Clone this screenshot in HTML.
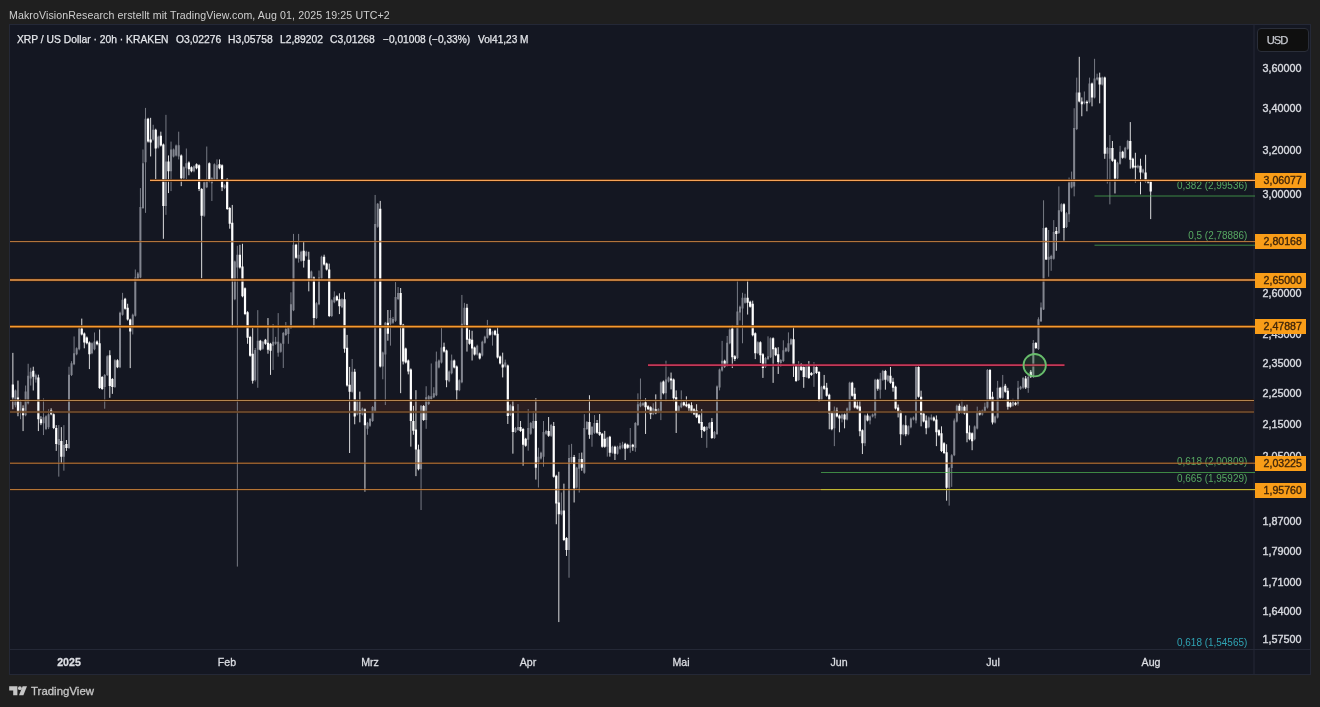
<!DOCTYPE html>
<html><head><meta charset="utf-8"><title>XRP chart</title>
<style>
*{margin:0;padding:0;box-sizing:border-box}
html,body{width:1320px;height:707px;overflow:hidden;background:#1f1f1f}
body{position:relative;font-family:"Liberation Sans",sans-serif;color:#d1d4dc}
.t{position:absolute;white-space:nowrap;line-height:1;will-change:transform}
#title{left:9px;top:9.6px;font-size:10.6px;color:#cfcfcf;letter-spacing:0.11px}
#chart{position:absolute;left:9px;top:24px;width:1302px;height:651px;background:#141722;border:1px solid #242836}
svg{position:absolute;left:0;top:0}
.lg{top:35.1px;font-size:10.3px;color:#e4e6ea;-webkit-text-stroke:0.25px #e4e6ea}
.pl{-webkit-text-stroke:0.4px #d6d8de;left:1254px;width:56px;text-align:center;font-size:10.8px;color:#d6d8de;height:12px;line-height:12px}
.ol{-webkit-text-stroke:0.35px #40260a;padding-left:4px;left:1255px;width:51.4px;height:15.4px;line-height:15.4px;background:#f99d18;color:#40260a;text-align:center;font-size:10.6px}
.tl{top:656.7px;font-size:10.6px;color:#dcdee3;-webkit-text-stroke:0.3px #dcdee3;transform:translateX(-50%)}
#usd{left:1257px;top:28px;width:52px;height:24px;border:1px solid #2a2e39;border-radius:4px;background:#0f0f0f;font-size:11.2px;letter-spacing:-1.05px;color:#c5c7cd;line-height:22px;padding-left:8.8px;-webkit-text-stroke:0.25px #c5c7cd}
#tv{left:31px;top:685.5px;font-size:11.4px;color:#c6c6c6;letter-spacing:0.03px;-webkit-text-stroke:0.3px #c6c6c6}
</style></head><body>
<div class="t" id="title">MakroVisionResearch erstellt mit TradingView.com, Aug 01, 2025 19:25 UTC+2</div>
<div id="chart"></div>
<svg width="1320" height="707" viewBox="0 0 1320 707">
<!-- axis separators -->
<path d="M1254 25V675M10 649.5H1310" stroke="#242836" stroke-width="1" fill="none"/>
<!-- band -->
<rect x="10" y="401" width="1244" height="10.6" fill="#3a2220" opacity="0.55"/>
<path d="M15.42 389.5V407.33M20.52 399.41V419.21M25.62 385.54V416.24M28.17 363.76V404.36M30.72 367.72V385.54M35.83 373.66V382.57M43.48 398.42V435.05M46.03 415.25V430.1M48.58 409.31V429.11M58.79 425.15V476.63M63.89 425.15V470.69M68.99 366.73V448.91M71.54 361.19V376.04M74.09 336.44V365.15M76.64 347.33V355.25M79.2 327.52V350.3M91.95 342.38V354.26M94.5 332.48V350.3M104.71 374.06V408.71M107.26 355.25V376.04M114.91 359.21V387.92M120.02 311.68V368.12M122.57 292.87V315.64M132.77 313.66V334.46M135.32 269.5V316.63M137.87 272.08V279.01M140.42 188.12V278.22M142.98 149.5V208.91M145.53 107.92V212.87M153.18 124.75V140.59M158.28 135.64V148.51M165.94 114.85V214.85M171.04 141.58V191.09M173.59 148.51V157.43M176.14 144.55V156.44M178.69 131.68V159.41M183.8 166.34V179.21M186.35 148.51V179.21M194 165.35V172.28M204.2 181.19V216.83M206.76 146.53V188.12M211.86 177.23V200.99M214.41 163.37V180.2M216.96 159.41V180.2M224.61 184.16V189.11M234.82 260.59V300.2M237.37 245.79V566.58M255.23 347.97V381.44M257.78 310.15V387.77M262.88 340.84V349.75M273.09 324.01V369.95M275.64 336.88V344.8M278.19 313.12V356.68M280.74 342.82V352.72M283.29 331.93V367.97M285.84 322.03V335.89M288.39 325.99V343.81M290.95 292.33V328.96M293.5 233.91V311.14M298.6 233.91V262.62M301.15 250.74V261.63M306.25 250.74V256.68M311.36 270.54V281.44M316.46 302.23V319.06M319.01 270.54V305.2M321.56 255.69V279.46M331.76 299.26V317.08M334.32 291.34V303.22M341.97 298.27V308.17M352.17 358.96V392.62M357.28 399.55V415.4M362.38 407.48V415.4M367.48 421.88V434.75M370.03 417.92V426.83M372.58 406.04V421.88M375.14 194.95V411.98M377.69 203.07V227.82M382.79 351.58V379.31M385.34 321.88V405.05M390.44 310V345.64M392.99 316.93V323.86M395.54 282.08V321.88M398.1 287.03V300.1M421.06 405.05V510M426.16 386.24V428.81M428.71 395.15V405.05M431.26 363.47V400.1M433.81 387.23V398.12M436.36 351.58V396.14M438.92 359.5V368.42M441.47 327.82V363.47M449.12 370.4V382.28M451.67 354.55V374.36M459.32 379.31V391.19M461.88 294.95V383.27M464.43 302.87V325.84M477.18 344.65V355.54M482.29 340.69V356.53M484.84 335.74V343.66M487.39 319.9V338.71M492.49 330.79V345.64M505.25 359.6V367.52M510.35 404.16V416.04M515.45 426.93V432.87M518 404.16V430.89M528.21 409.11V450.69M530.76 421.98V434.85M533.31 411.09V428.91M538.41 447.72V487.52M540.96 451.68V459.6M543.51 420.99V466.73M546.07 429.9V434.85M551.17 423.96V436.83M561.37 492.57V515.35M569.03 444.85V577.72M571.58 443.86V462.87M576.68 466.83V488.61M579.23 452.97V492.57M584.33 414.16V473.76M586.88 420.99V429.9M591.99 425.94V446.73M594.54 415.05V433.86M607.29 436.83V456.63M612.4 445.74V453.66M617.5 445.74V454.65M620.05 442.77V449.7M622.6 441.78V448.71M630.26 428.02V452.77M635.36 422.08V451.78M637.91 393.37V426.04M640.46 378.51V407.23M643.01 402.28V406.24M653.22 403.27V415.15M658.32 408.22V413.17M660.87 381.49V420.1M665.97 360.69V401.29M668.52 376.53V382.48M678.73 405.25V412.18M681.28 390.4V408.22M706.79 426.04V447.82M709.34 422.08V429.01M714.44 430.99V438.91M717 385.45V434.95M719.55 368.61V390.4M722.1 340.89V371.58M727.2 335.94V366.63M729.75 328.42V344.26M737.41 280.89V359.11M739.96 305.64V320.5M742.51 292.77V343.27M745.06 293.76V303.66M757.82 341.29V354.16M765.47 357.13V368.02M768.02 336.34V360.1M770.57 337.33V358.12M780.78 359.11V367.03M783.33 340.3V362.08M785.88 347.23V352.18M788.43 332.38V352.18M790.98 338.32V345.25M798.63 361.09V380.89M806.29 364.06V377.92M813.94 362.08V386.83M821.6 385.84V400.69M834.35 406.53V446.14M842 413.47V422.38M847.11 407.52V420.4M849.66 381.78V411.49M864.97 414.46V446.14M870.07 415.45V424.36M872.62 413.47V417.43M875.17 378.81V418.42M880.27 372.87V398.61M882.82 369.9V380.79M887.93 374.85V381.78M903.23 424.36V435.25M908.34 425.35V435.25M910.89 417.43V428.32M913.44 416.44V420.4M915.99 365.94V423.37M928.75 416.44V428.32M931.3 414.46V420.4M949.16 467.03V505.64M951.71 454.16V486.83M954.26 418.51V456.14M956.81 404.65V422.48M961.91 399.7V413.56M974.67 425.45V440.3M977.22 406.63V429.41M982.32 409.6V415.54M984.87 402.67V412.57M987.42 369.01V408.61M995.08 415.54V423.47M997.63 380.89V418.51M1002.73 374.95V398.71M1012.94 398.71V406.63M1018.04 380.89V405.64M1020.59 385.84V389.8M1023.14 376.93V388.81M1028.24 375V392.8M1033.34 340V378M1038.45 317.3V350M1041 302.5V322M1043.55 200.3V310M1048.65 230V276.73M1051.2 254.75V270.79M1053.75 220.1V259.7M1058.86 186.44V233.96M1061.41 203.27V212.18M1066.51 212.18V228.02M1069.06 177.52V222.08M1071.61 171.58V188.42M1074.16 108.22V196.34M1076.72 77.62V130.1M1084.37 91.49V104.36M1089.47 77.62V103.37M1094.57 58.81V98.42M1097.12 73.66V80.59M1102.23 76.63V85.54M1107.33 146.93V183.56M1109.88 135.05V204.36M1117.53 161.78V179.41M1120.09 145.84V164.65M1125.19 146.83V158.71M1127.74 139.9V149.8M1137.94 164.65V168.61M1143.05 168.61V173.56" stroke="#82858f" stroke-width="1" fill="none" opacity="0.9"/><path d="M14.42 390.5h2v14.85h-2zM19.52 401.39h2v9.9h-2zM24.62 391.49h2v23.76h-2zM27.17 375.64h2v27.72h-2zM29.72 371.68h2v6.93h-2zM34.83 375.25h2v4.36h-2zM42.48 417.23h2v5.94h-2zM45.03 416.24h2v12.87h-2zM47.58 414.26h2v12.87h-2zM57.79 439.01h2v5.94h-2zM62.89 444.95h2v11.88h-2zM67.99 374.65h2v73.27h-2zM70.54 363.17h2v11.88h-2zM73.09 353.27h2v10.89h-2zM75.64 348.32h2v5.94h-2zM78.2 328.51h2v20.79h-2zM90.95 343.37h2v9.9h-2zM93.5 341.39h2v7.92h-2zM103.71 375.05h2v11.88h-2zM106.26 356.24h2v18.81h-2zM113.91 360.2h2v26.73h-2zM119.02 312.67h2v54.46h-2zM121.57 299.8h2v14.85h-2zM131.77 314.65h2v12.87h-2zM134.32 277.43h2v38.22h-2zM136.87 273.47h2v4.95h-2zM139.42 206.93h2v70.5h-2zM141.98 163.37h2v44.55h-2zM144.53 118.81h2v43.56h-2zM152.18 129.7h2v9.9h-2zM157.28 136.63h2v10.89h-2zM164.94 161.39h2v44.55h-2zM170.04 149.5h2v21.78h-2zM172.59 149.5h2v6.93h-2zM175.14 145.54h2v9.9h-2zM177.69 145.15h2v11.29h-2zM182.8 167.33h2v10.89h-2zM185.35 163.37h2v4.95h-2zM193 166.34h2v4.95h-2zM203.2 182.18h2v33.66h-2zM205.76 179.21h2v7.92h-2zM210.86 178.22h2v4.95h-2zM213.41 164.36h2v14.85h-2zM215.96 165.35h2v13.86h-2zM223.61 185.15h2v2.97h-2zM233.82 261.58h2v37.62h-2zM236.37 254.7h2v12.87h-2zM254.23 349.95h2v30.1h-2zM256.78 340.84h2v8.91h-2zM261.88 341.83h2v6.93h-2zM272.09 341.83h2v3.96h-2zM274.64 341.83h2v1.98h-2zM277.19 341.83h2v10.89h-2zM279.74 343.81h2v7.92h-2zM282.29 332.92h2v10.89h-2zM284.84 328.96h2v5.94h-2zM287.39 326.98h2v6.93h-2zM289.95 304.21h2v23.76h-2zM292.5 244.8h2v65.35h-2zM297.6 254.7h2v3.96h-2zM300.15 251.73h2v8.91h-2zM305.25 251.73h2v3.96h-2zM310.36 271.53h2v8.91h-2zM315.46 303.22h2v14.85h-2zM318.01 277.48h2v26.73h-2zM320.56 256.68h2v21.78h-2zM330.76 300.25h2v15.84h-2zM333.32 297.28h2v4.95h-2zM340.97 299.26h2v7.92h-2zM351.17 371.83h2v19.8h-2zM356.28 400.54h2v13.86h-2zM361.38 408.47h2v5.94h-2zM366.48 422.87h2v5.94h-2zM369.03 418.91h2v6.93h-2zM371.58 407.03h2v13.86h-2zM374.14 224.06h2v186.93h-2zM376.69 203.86h2v22.97h-2zM381.79 352.57h2v13.86h-2zM384.34 322.87h2v31.68h-2zM389.44 317.92h2v5.94h-2zM391.99 318.91h2v3.76h-2zM394.54 296.93h2v23.76h-2zM397.1 292.97h2v5.94h-2zM420.06 405.84h2v63.37h-2zM425.16 397.13h2v22.77h-2zM427.71 396.14h2v7.92h-2zM430.26 396.14h2v2.97h-2zM432.81 393.17h2v3.96h-2zM435.36 361.49h2v33.66h-2zM437.92 360.5h2v6.93h-2zM440.47 347.62h2v14.85h-2zM448.12 371.39h2v9.9h-2zM450.67 360.5h2v12.87h-2zM458.32 380.3h2v9.9h-2zM460.88 323.86h2v58.42h-2zM463.43 307.82h2v17.03h-2zM476.18 345.64h2v8.91h-2zM481.29 341.68h2v13.86h-2zM483.84 336.73h2v5.94h-2zM486.39 328.81h2v8.91h-2zM491.49 331.78h2v2.97h-2zM504.25 362.57h2v3.96h-2zM509.35 405.15h2v9.9h-2zM514.45 427.92h2v3.96h-2zM517 426.93h2v2.97h-2zM527.21 427.92h2v11.88h-2zM529.76 422.97h2v10.89h-2zM532.31 420.99h2v6.93h-2zM537.41 456.63h2v5.35h-2zM539.96 452.67h2v5.94h-2zM542.51 431.88h2v24.75h-2zM545.07 430.89h2v2.97h-2zM550.17 424.95h2v10.89h-2zM560.37 510.4h2v3.96h-2zM568.03 457.92h2v92.08h-2zM570.58 456.93h2v4.95h-2zM575.68 467.82h2v19.8h-2zM578.23 458.91h2v9.9h-2zM583.33 428.02h2v44.75h-2zM585.88 421.98h2v6.93h-2zM590.99 426.93h2v7.92h-2zM593.54 422.97h2v9.9h-2zM606.29 437.82h2v8.91h-2zM611.4 446.73h2v5.94h-2zM616.5 446.73h2v6.93h-2zM619.05 445.74h2v2.97h-2zM621.6 444.75h2v2.97h-2zM629.26 444.85h2v2.97h-2zM634.36 423.07h2v24.75h-2zM636.91 404.26h2v20.79h-2zM639.46 403.27h2v2.97h-2zM642.01 403.27h2v1.98h-2zM652.22 408.22h2v5.94h-2zM657.32 409.21h2v2.97h-2zM659.87 382.48h2v28.71h-2zM664.97 379.5h2v13.86h-2zM667.52 377.52h2v3.96h-2zM677.73 406.24h2v4.95h-2zM680.28 403.27h2v3.96h-2zM705.79 427.03h2v2.97h-2zM708.34 423.07h2v4.95h-2zM713.44 431.98h2v5.94h-2zM716 386.44h2v47.52h-2zM718.55 369.6h2v17.82h-2zM721.1 360.69h2v9.9h-2zM726.2 342.87h2v22.77h-2zM728.75 329.41h2v13.86h-2zM736.41 311.58h2v46.53h-2zM738.96 306.63h2v5.94h-2zM741.51 297.72h2v10.89h-2zM744.06 297.72h2v4.95h-2zM756.82 342.28h2v10.89h-2zM764.47 358.12h2v8.91h-2zM767.02 356.14h2v2.97h-2zM769.57 338.32h2v18.81h-2zM779.78 360.1h2v2.97h-2zM782.33 350.2h2v10.89h-2zM784.88 348.22h2v2.97h-2zM787.43 343.27h2v7.92h-2zM789.98 339.31h2v4.95h-2zM797.63 365.05h2v14.85h-2zM805.29 365.05h2v11.88h-2zM812.94 366.04h2v7.92h-2zM820.6 386.83h2v12.87h-2zM833.35 410.5h2v17.82h-2zM841 414.46h2v3.96h-2zM846.11 408.51h2v10.89h-2zM848.66 382.77h2v27.72h-2zM863.97 415.45h2v27.72h-2zM869.07 416.44h2v3.96h-2zM871.62 414.46h2v1.98h-2zM874.17 379.8h2v35.64h-2zM879.27 378.81h2v10.89h-2zM881.82 370.89h2v8.91h-2zM886.93 375.84h2v4.95h-2zM902.23 425.35h2v8.91h-2zM907.34 426.34h2v7.92h-2zM909.89 418.42h2v8.91h-2zM912.44 417.43h2v1.98h-2zM914.99 366.93h2v53.47h-2zM927.75 417.43h2v9.9h-2zM930.3 417.43h2v1.98h-2zM948.16 468.02h2v19.8h-2zM950.71 455.15h2v12.87h-2zM953.26 420.5h2v34.65h-2zM955.81 405.64h2v15.84h-2zM960.91 406.63h2v5.94h-2zM973.67 426.44h2v12.87h-2zM976.22 411.58h2v16.83h-2zM981.32 410.59h2v3.96h-2zM983.87 406.63h2v4.95h-2zM986.42 370h2v37.62h-2zM994.08 416.53h2v5.94h-2zM996.63 387.82h2v29.7h-2zM1001.73 386.83h2v10.89h-2zM1011.94 401.68h2v3.96h-2zM1017.04 387.82h2v15.84h-2zM1019.59 386.83h2v1.98h-2zM1022.14 377.92h2v9.9h-2zM1027.24 377h2v11h-2zM1032.34 343h2v33.7h-2zM1037.45 319.3h2v29.7h-2zM1040 307.4h2v13.9h-2zM1042.55 228h2v81.4h-2zM1047.65 256.73h2v2.97h-2zM1050.2 255.94h2v2.97h-2zM1052.75 231.98h2v26.73h-2zM1057.86 210.2h2v22.77h-2zM1060.41 204.26h2v6.93h-2zM1065.51 213.17h2v13.86h-2zM1068.06 182.48h2v31.68h-2zM1070.61 179.5h2v7.92h-2zM1073.16 128.02h2v58.42h-2zM1075.72 92.48h2v36.63h-2zM1083.37 101.39h2v1.98h-2zM1088.47 83.56h2v18.81h-2zM1093.57 78.61h2v18.81h-2zM1096.12 77.62h2v1.98h-2zM1101.23 77.62h2v6.93h-2zM1106.33 147.92h2v5.94h-2zM1108.88 147.92h2v10.89h-2zM1116.53 162.77h2v15.64h-2zM1119.09 151.78h2v11.88h-2zM1124.19 147.82h2v9.9h-2zM1126.74 140.89h2v7.92h-2zM1136.94 165.64h2v1.98h-2zM1142.05 169.6h2v2.97h-2z" fill="#82858f"/><path d="M12.86 352.87V409.31M17.97 380.59V416.24M23.07 405.35V431.09M33.27 366.73V390.5M38.38 374.65V431.09M40.93 416.24V425.15M51.13 408.32V415.25M53.68 413.27V429.11M56.24 425.15V450.89M61.34 427.13V462.77M66.44 440V450.89M81.75 318.61V335.45M84.3 332.48V348.32M86.85 336.44V344.36M89.4 341.39V369.11M97.05 340.4V345.35M99.61 329.5V388.91M102.16 376.04V389.9M109.81 350.3V397.82M112.36 378.02V393.86M117.46 359.21V368.12M125.12 297.82V309.7M127.67 303.76V320.59M130.22 318.61V368.12M148.08 117.82V142.57M150.63 117.82V156.44M155.73 128.71V179.21M160.83 131.68V146.53M163.39 143.56V238.81M168.49 155.45V193.07M181.24 154.46V186.14M188.9 161.39V175.25M191.45 166.34V172.28M196.55 163.37V169.31M199.1 164.36V191.09M201.65 188.12V278.42M209.31 162.38V182.18M219.51 159.41V169.31M222.06 164.36V191.09M227.17 178.22V209.9M229.72 206.93V228.71M232.27 204.95V327.92M239.92 244.8V268.56M242.47 243.81V297.28M245.02 287.38V315.1M247.58 311.14V343.81M250.13 335.89V356.68M252.68 327.97V383.61M260.33 339.85V350.74M265.43 338.86V344.8M267.98 318.07V353.71M270.54 342.82V374.9M296.05 243.81V258.66M303.7 241.83V267.57M308.8 251.73V291.34M313.91 276.49V327.97M324.11 254.7V265.59M326.66 262.62V270.54M329.21 263.61V317.08M336.87 295.3V301.24M339.42 293.32V314.11M344.52 292.33V352.72M347.07 334.9V386.58M349.62 366.88V453.02M354.73 368.86V424.31M359.83 391.63V422.33M364.93 408.47V491.63M380.24 200.89V367.43M387.89 310V340.69M400.65 288.02V393.17M403.2 323.86V364.46M405.75 347.62V363.47M408.3 359.5V374.36M410.85 368.42V446.63M413.4 405.84V434.75M415.95 390.2V476.14M418.51 444.65V470.4M423.61 405.05V420.89M444.02 342.67V352.57M446.57 349.6V387.23M454.22 359.5V368.42M456.77 365.45V401.09M466.98 303.86V351.58M469.53 329.8V344.65M472.08 330.79V360.5M474.63 346.63V355.54M479.73 352.57V359.5M489.94 327.82V335.74M495.04 329.8V335.74M497.59 326.83V358.51M500.14 355.54V364.46M502.7 352.67V377.43M507.8 364.55V423.96M512.9 400.2V453.66M520.55 420.99V431.88M523.1 427.92V465.74M525.66 437.82V446.73M535.86 398.22V479.6M548.62 417.03V436.83M553.72 421.98V477.62M556.27 474.75V524.26M558.82 471.78V622.08M563.92 483.66V541.09M566.48 537.13V555.94M574.13 454.95V502.48M581.78 452.57V470.79M589.44 395.25V438.81M597.09 420V433.86M599.64 414.06V435.84M602.19 432.87V447.72M604.74 430.89V447.72M609.85 435.84V456.63M614.95 445.74V460M625.15 442.77V460M627.7 443.76V448.71M632.81 443.86V450.79M645.56 398.32V433.96M648.11 405.25V410.2M650.66 406.24V419.11M655.77 394.36V414.16M663.42 380.5V394.36M671.07 372.57V389.41M673.63 378.51V401.29M676.18 390.4V432.97M683.83 401.29V406.24M686.38 396.34V407.23M688.93 403.27V411.19M691.48 402.28V413.17M694.04 408.22V415.15M696.59 404.26V418.12M699.14 414.16V424.06M701.69 409.21V437.92M704.24 426.04V431.98M711.89 418.12V438.91M724.65 359.7V367.62M732.3 325.45V368.02M734.85 355.15V361.09M747.61 279.9V314.55M750.16 300.69V307.62M752.71 300.69V336.34M755.26 332.38V359.11M760.37 341.29V363.07M762.92 353.17V377.92M773.12 337.33V382.87M775.67 347.23V356.14M778.22 347.23V373.96M793.53 326.44V376.93M796.08 364.06V381.88M801.19 363.07V370.99M803.74 366.04V387.82M808.84 361.09V378.91M811.39 371.98V375.94M816.49 366.04V373.96M819.04 370.99V401.68M824.15 374.95V389.8M826.7 382.87V396.73M829.25 393.66V429.31M831.8 411.49V430.3M836.9 407.52V417.43M839.45 414.46V432.28M844.56 413.47V428.32M852.21 381.78V396.63M854.76 387.72V408.51M857.31 400.59V409.5M859.86 400.59V436.24M862.41 429.31V454.06M867.52 413.47V421.39M877.72 378.81V390.69M885.38 369.9V389.7M890.48 366.93V383.76M893.03 377.82V391.68M895.58 385.74V409.5M898.13 404.55V417.43M900.68 410.5V445.15M905.78 415.45V436.24M918.54 365.94V397.62M921.09 390.69V426.34M923.64 412.48V422.38M926.19 415.45V434.26M933.85 416.44V421.39M936.4 415.45V446.14M938.95 429.31V436.24M941.5 426.34V452.08M944.05 442.18V454.06M946.6 444.26V500.69M959.36 403.66V413.56M964.46 405.64V414.55M967.01 404.65V442.28M969.56 425.45V440.3M972.12 432.38V450.2M979.77 410.59V415.54M989.97 369.01V400.69M992.53 391.78V424.46M1000.18 386.83V398.71M1005.28 383.86V392.77M1007.83 387.82V409.6M1010.38 401.68V407.62M1015.49 401.68V405.64M1025.69 376V389M1030.79 370V378M1035.9 342V349M1046.1 227V260M1056.31 227.03V250.79M1063.96 203.27V240.89M1079.27 56.83V102.38M1081.82 97.43V116.24M1086.92 100.4V111.29M1092.02 82.57V106.34M1099.68 72.67V103.37M1104.78 76.63V158.81M1112.43 140.99V161.78M1114.98 158.81V193.47M1122.64 150.79V158.71M1130.29 122.08V168.61M1132.84 157.72V168.61M1135.39 152.77V182.48M1140.5 158.71V194.36M1145.6 154.75V182.48M1148.15 179.5V183.47M1150.7 180.5V219.11" stroke="#ffffff" stroke-width="1" fill="none" opacity="0.85"/><path d="M11.76 384.55h2.2v12.87h-2.2zM16.87 397.43h2.2v15.84h-2.2zM21.97 408.32h2.2v6.93h-2.2zM32.17 370.69h2.2v5.94h-2.2zM37.28 377.62h2.2v41.58h-2.2zM39.83 419.21h2.2v3.96h-2.2zM50.03 410.3h2.2v3.96h-2.2zM52.58 414.26h2.2v13.86h-2.2zM55.14 428.12h2.2v15.84h-2.2zM60.24 440.99h2.2v15.84h-2.2zM65.34 443.96h2.2v3.96h-2.2zM80.65 328.51h2.2v5.94h-2.2zM83.2 333.47h2.2v8.91h-2.2zM85.75 337.43h2.2v5.94h-2.2zM88.3 342.38h2.2v11.88h-2.2zM95.95 341.39h2.2v2.97h-2.2zM98.51 343.37h2.2v44.55h-2.2zM101.06 377.03h2.2v11.88h-2.2zM108.71 355.25h2.2v30.69h-2.2zM111.26 379.01h2.2v7.92h-2.2zM116.36 360.2h2.2v6.93h-2.2zM124.02 298.81h2.2v9.9h-2.2zM126.57 307.72h2.2v11.88h-2.2zM129.12 319.6h2.2v11.88h-2.2zM146.98 118.81h2.2v22.77h-2.2zM149.53 139.6h2.2v2.97h-2.2zM154.63 129.7h2.2v18.81h-2.2zM159.73 135.64h2.2v9.9h-2.2zM162.29 144.55h2.2v61.39h-2.2zM167.39 161.39h2.2v9.9h-2.2zM180.14 155.45h2.2v22.77h-2.2zM187.8 162.38h2.2v6.93h-2.2zM190.35 167.33h2.2v3.96h-2.2zM195.45 164.36h2.2v3.96h-2.2zM198 165.35h2.2v23.76h-2.2zM200.55 189.11h2.2v26.73h-2.2zM208.21 163.37h2.2v17.82h-2.2zM218.41 164.36h2.2v3.96h-2.2zM220.96 165.35h2.2v21.78h-2.2zM226.07 179.21h2.2v29.7h-2.2zM228.62 207.92h2.2v15.84h-2.2zM231.17 222.77h2.2v56.63h-2.2zM238.82 254.7h2.2v12.87h-2.2zM241.37 266.58h2.2v29.7h-2.2zM243.92 288.37h2.2v25.74h-2.2zM246.48 312.13h2.2v25.74h-2.2zM249.03 336.88h2.2v18.81h-2.2zM251.58 353.71h2.2v26.93h-2.2zM259.23 340.84h2.2v8.91h-2.2zM264.33 339.85h2.2v3.96h-2.2zM266.88 342.82h2.2v6.93h-2.2zM269.44 343.81h2.2v6.93h-2.2zM294.95 244.8h2.2v12.87h-2.2zM302.6 250.74h2.2v9.9h-2.2zM307.7 259.65h2.2v20.79h-2.2zM312.81 277.48h2.2v40.59h-2.2zM323.01 256.68h2.2v7.92h-2.2zM325.56 263.61h2.2v5.94h-2.2zM328.11 269.55h2.2v46.53h-2.2zM335.77 296.29h2.2v3.96h-2.2zM338.32 299.26h2.2v6.93h-2.2zM343.42 299.26h2.2v49.5h-2.2zM345.97 347.77h2.2v37.82h-2.2zM348.52 384.7h2.2v6.93h-2.2zM353.63 371.83h2.2v44.55h-2.2zM358.73 410.45h2.2v2.97h-2.2zM363.83 409.46h2.2v15.84h-2.2zM379.14 208.81h2.2v157.62h-2.2zM386.79 322.87h2.2v10.89h-2.2zM399.55 292.97h2.2v31.88h-2.2zM402.1 324.85h2.2v36.63h-2.2zM404.65 348.61h2.2v13.86h-2.2zM407.2 360.5h2.2v10.89h-2.2zM409.75 369.41h2.2v51.49h-2.2zM412.3 420.89h2.2v9.9h-2.2zM414.85 429.6h2.2v19.8h-2.2zM417.41 449.41h2.2v19.8h-2.2zM422.51 406.04h2.2v13.86h-2.2zM442.92 346.63h2.2v4.95h-2.2zM445.47 350.59h2.2v29.7h-2.2zM453.12 360.5h2.2v6.93h-2.2zM455.67 366.44h2.2v23.76h-2.2zM465.88 307.82h2.2v31.88h-2.2zM468.43 338.71h2.2v4.95h-2.2zM470.98 339.7h2.2v8.91h-2.2zM473.53 347.62h2.2v6.93h-2.2zM478.63 353.56h2.2v4.95h-2.2zM488.84 328.81h2.2v5.94h-2.2zM493.94 330.79h2.2v3.96h-2.2zM496.49 333.76h2.2v23.76h-2.2zM499.04 356.53h2.2v6.93h-2.2zM501.6 364.55h2.2v2.97h-2.2zM506.7 365.54h2.2v50.5h-2.2zM511.8 406.14h2.2v25.74h-2.2zM519.45 426.93h2.2v3.96h-2.2zM522 428.91h2.2v15.84h-2.2zM524.56 438.81h2.2v6.93h-2.2zM534.76 420.99h2.2v46.73h-2.2zM547.52 430.89h2.2v4.95h-2.2zM552.62 425.94h2.2v50.69h-2.2zM555.17 475.74h2.2v27.72h-2.2zM557.72 502.48h2.2v11.88h-2.2zM562.82 510.4h2.2v29.7h-2.2zM565.38 538.12h2.2v11.88h-2.2zM573.03 456.93h2.2v31.68h-2.2zM580.68 458.91h2.2v8.91h-2.2zM588.34 421.98h2.2v12.87h-2.2zM595.99 422.97h2.2v9.9h-2.2zM598.54 431.88h2.2v2.97h-2.2zM601.09 433.86h2.2v12.87h-2.2zM603.64 438.81h2.2v7.92h-2.2zM608.75 436.83h2.2v15.84h-2.2zM613.85 446.73h2.2v6.93h-2.2zM624.05 443.76h2.2v4.95h-2.2zM626.6 444.75h2.2v2.97h-2.2zM631.71 444.85h2.2v1.98h-2.2zM644.46 402.28h2.2v4.95h-2.2zM647.01 406.24h2.2v2.97h-2.2zM649.56 407.23h2.2v6.93h-2.2zM654.67 409.21h2.2v3.96h-2.2zM662.32 381.49h2.2v11.88h-2.2zM669.97 378.51h2.2v1.98h-2.2zM672.53 379.5h2.2v18.81h-2.2zM675.08 397.33h2.2v13.86h-2.2zM682.73 402.28h2.2v2.97h-2.2zM685.28 404.26h2.2v1.98h-2.2zM687.83 404.26h2.2v3.96h-2.2zM690.38 405.25h2.2v6.93h-2.2zM692.94 409.21h2.2v4.95h-2.2zM695.49 410.2h2.2v6.93h-2.2zM698.04 415.15h2.2v7.92h-2.2zM700.59 422.08h2.2v7.92h-2.2zM703.14 427.03h2.2v3.96h-2.2zM710.79 422.08h2.2v15.84h-2.2zM723.55 360.69h2.2v5.94h-2.2zM731.2 328.42h2.2v28.71h-2.2zM733.75 356.14h2.2v2.97h-2.2zM746.51 297.72h2.2v4.95h-2.2zM749.06 301.68h2.2v4.95h-2.2zM751.61 303.66h2.2v31.68h-2.2zM754.16 333.37h2.2v19.8h-2.2zM759.27 342.28h2.2v12.87h-2.2zM761.82 354.16h2.2v13.86h-2.2zM772.02 338.32h2.2v10.89h-2.2zM774.57 348.22h2.2v6.93h-2.2zM777.12 354.16h2.2v7.92h-2.2zM792.43 339.31h2.2v26.73h-2.2zM794.98 365.05h2.2v15.84h-2.2zM800.09 364.06h2.2v5.94h-2.2zM802.64 367.03h2.2v9.9h-2.2zM807.74 365.05h2.2v12.87h-2.2zM810.29 372.97h2.2v1.98h-2.2zM815.39 367.03h2.2v5.94h-2.2zM817.94 371.98h2.2v28.71h-2.2zM823.05 385.84h2.2v2.97h-2.2zM825.6 387.82h2.2v7.92h-2.2zM828.15 394.65h2.2v18.81h-2.2zM830.7 412.48h2.2v16.83h-2.2zM835.8 410.5h2.2v5.94h-2.2zM838.35 415.45h2.2v2.97h-2.2zM843.46 414.46h2.2v4.95h-2.2zM851.11 382.77h2.2v12.87h-2.2zM853.66 393.66h2.2v13.86h-2.2zM856.21 405.54h2.2v2.97h-2.2zM858.76 406.53h2.2v24.75h-2.2zM861.31 430.3h2.2v12.87h-2.2zM866.42 415.45h2.2v4.95h-2.2zM876.62 379.8h2.2v8.91h-2.2zM884.28 370.89h2.2v8.91h-2.2zM889.38 375.84h2.2v6.93h-2.2zM891.93 381.78h2.2v5.94h-2.2zM894.48 386.73h2.2v21.78h-2.2zM897.03 407.52h2.2v4.95h-2.2zM899.58 411.49h2.2v22.77h-2.2zM904.68 425.35h2.2v8.91h-2.2zM917.44 366.93h2.2v29.7h-2.2zM919.99 396.63h2.2v17.82h-2.2zM922.54 413.47h2.2v7.92h-2.2zM925.09 420.4h2.2v7.92h-2.2zM932.75 417.43h2.2v2.97h-2.2zM935.3 419.41h2.2v12.87h-2.2zM937.85 430.3h2.2v4.95h-2.2zM940.4 433.27h2.2v17.82h-2.2zM942.95 443.17h2.2v9.9h-2.2zM945.5 452.18h2.2v35.64h-2.2zM958.26 405.64h2.2v6.93h-2.2zM963.36 406.63h2.2v6.93h-2.2zM965.91 412.57h2.2v20.79h-2.2zM968.46 432.38h2.2v6.93h-2.2zM971.02 433.37h2.2v7.92h-2.2zM978.67 411.58h2.2v2.97h-2.2zM988.87 370h2.2v29.7h-2.2zM991.43 396.73h2.2v25.74h-2.2zM999.08 387.82h2.2v9.9h-2.2zM1004.18 385.84h2.2v5.94h-2.2zM1006.73 390.79h2.2v15.84h-2.2zM1009.28 402.67h2.2v3.96h-2.2zM1014.39 402.67h2.2v1.98h-2.2zM1024.59 378.5h2.2v9h-2.2zM1029.69 371.8h2.2v4.9h-2.2zM1034.8 343h2.2v5h-2.2zM1045 228h2.2v31.5h-2.2zM1055.21 230.99h2.2v2.97h-2.2zM1062.86 204.26h2.2v23.76h-2.2zM1078.17 92.48h2.2v8.91h-2.2zM1080.72 101.39h2.2v2.97h-2.2zM1085.82 101.78h2.2v1.58h-2.2zM1090.92 83.56h2.2v13.86h-2.2zM1098.58 77.62h2.2v6.93h-2.2zM1103.68 77.62h2.2v76.24h-2.2zM1111.33 147.92h2.2v12.87h-2.2zM1113.88 159.8h2.2v18.61h-2.2zM1121.54 151.78h2.2v5.94h-2.2zM1129.19 140.89h2.2v18.81h-2.2zM1131.74 158.71h2.2v8.91h-2.2zM1134.29 165.64h2.2v1.98h-2.2zM1139.4 165.64h2.2v6.93h-2.2zM1144.5 172.57h2.2v8.91h-2.2zM1147.05 180.5h2.2v1.98h-2.2zM1149.6 181.49h2.2v9.9h-2.2z" fill="#ffffff"/>
<!-- fib texts -->
<g font-family="Liberation Sans, sans-serif" font-size="10.4" fill="#57a862" text-anchor="end">
<text x="1247.3" y="189.1" textLength="70.3" lengthAdjust="spacingAndGlyphs">0,382 (2,99536)</text>
<text x="1247.3" y="238.9" textLength="59" lengthAdjust="spacingAndGlyphs">0,5 (2,78886)</text>
<text x="1247.3" y="464.5" textLength="70.3" lengthAdjust="spacingAndGlyphs">0,618 (2,00809)</text>
<text x="1247.3" y="481.6" textLength="70.3" lengthAdjust="spacingAndGlyphs">0,665 (1,95929)</text>
<text x="1247.3" y="645.9" textLength="70.3" lengthAdjust="spacingAndGlyphs" fill="#2fa3b3">0,618 (1,54565)</text>
</g>
<!-- orange lines: halo + core -->
<g fill="none" stroke="#3a1800" opacity="0.75">
<path d="M150 180.4H1255" stroke-width="3"/>
<path d="M10 241.6H1255" stroke-width="2.2" opacity="0.45"/>
<path d="M10 280H1255" stroke-width="3.4"/>
<path d="M10 326.6H1255" stroke-width="3.4"/>
<path d="M10 400.5H1254M10 412H1254" stroke-width="2.6"/>
<path d="M10 463.2H1255M10 489.6H1255" stroke-width="2.2" opacity="0.45"/>
</g>
<g fill="none">
<path d="M150 180.4H1255" stroke="#f5a358" stroke-width="1.4"/>
<path d="M10 241.6H1255" stroke="#c07e40" stroke-width="1"/>
<path d="M10 280H1255" stroke="#f0a050" stroke-width="1.7"/>
<path d="M10 326.6H1255" stroke="#f59a30" stroke-width="1.8"/>
<path d="M10 400.5H1254" stroke="#b5854f" stroke-width="1"/>
<path d="M10 412H1254" stroke="#96704a" stroke-width="1"/>
<path d="M10 463.2H1255" stroke="#d88a3e" stroke-width="0.9"/>
<path d="M10 489.6H1255" stroke="#d88a3e" stroke-width="0.9"/>
</g>
<!-- fib lines -->
<g fill="none" stroke-width="1">
<path d="M1094.5 196H1255M1094.5 245.2H1255M821 472.5H1255" stroke="#4caf50" opacity="0.75"/>
<path d="M821 489.6H1255" stroke="#c0ca33" opacity="0.85"/>
</g>
<!-- red line -->
<path d="M648 365.2H1064.5" stroke="#3a0812" stroke-width="3.2" fill="none" opacity="0.6"/>
<path d="M648 365.2H1064.5" stroke="#c4385a" stroke-width="1.7" fill="none"/>
<!-- circle -->
<circle cx="1034.7" cy="365.2" r="11.2" fill="#4caf50" fill-opacity="0.15" stroke="#68bd6c" stroke-width="1.8"/>
<!-- TV logo -->
<g fill="#c6c6c6">
<path d="M9.2 686.2h8.2v9h-4.2v-4.8H9.2z"/>
<circle cx="19.9" cy="688.2" r="1.9"/>
<path d="M22.6 686.2h4.4l-3.6 9h-4.4z"/>
</g>
</svg>
<!-- legend -->
<div class="t lg" style="left:16.5px">XRP / US Dollar · 20h · KRAKEN</div>
<div class="t lg" style="left:175.5px">O3,02276</div>
<div class="t lg" style="left:227.7px">H3,05758</div>
<div class="t lg" style="left:280.2px">L2,89202</div>
<div class="t lg" style="left:330.4px">C3,01268</div>
<div class="t lg" style="left:382.6px;font-size:10.2px">−0,01008 (−0,33%)</div>
<div class="t lg" style="left:477.9px;font-size:10.1px">Vol41,23 M</div>
<!-- price labels -->
<div class="t pl" style="top:62px">3,60000</div>
<div class="t pl" style="top:101.5px">3,40000</div>
<div class="t pl" style="top:143.5px">3,20000</div>
<div class="t pl" style="top:188px">3,00000</div>
<div class="t pl" style="top:287px">2,60000</div>
<div class="t pl" style="top:328px">2,45000</div>
<div class="t pl" style="top:357px">2,35000</div>
<div class="t pl" style="top:386.5px">2,25000</div>
<div class="t pl" style="top:418px">2,15000</div>
<div class="t pl" style="top:450px">2,05000</div>
<div class="t pl" style="top:514.5px">1,87000</div>
<div class="t pl" style="top:544.5px">1,79000</div>
<div class="t pl" style="top:575.5px">1,71000</div>
<div class="t pl" style="top:605px">1,64000</div>
<div class="t pl" style="top:633px">1,57500</div>
<!-- orange labels -->
<div class="t ol" style="top:173.05px">3,06077</div>
<div class="t ol" style="top:234.25px">2,80168</div>
<div class="t ol" style="top:272.7px">2,65000</div>
<div class="t ol" style="top:319.35px">2,47887</div>
<div class="t ol" style="top:456.4px">2,03225</div>
<div class="t ol" style="top:483px">1,95760</div>
<!-- time labels -->
<div class="t tl" style="left:68.7px;font-weight:bold">2025</div>
<div class="t tl" style="left:226.8px">Feb</div>
<div class="t tl" style="left:369.5px">Mrz</div>
<div class="t tl" style="left:528.2px">Apr</div>
<div class="t tl" style="left:680.7px">Mai</div>
<div class="t tl" style="left:839.2px">Jun</div>
<div class="t tl" style="left:993px">Jul</div>
<div class="t tl" style="left:1150.7px">Aug</div>
<div class="t" id="usd">USD</div>
<div class="t" id="tv">TradingView</div>
</body></html>
